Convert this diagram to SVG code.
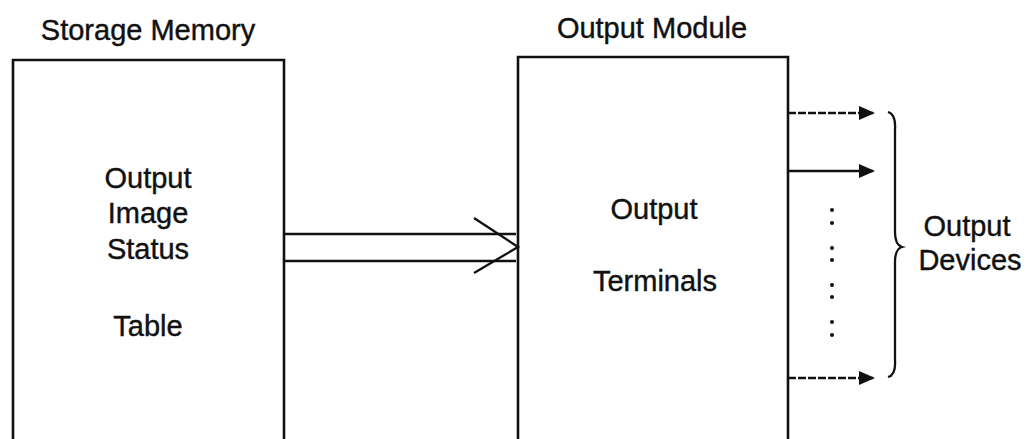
<svg xmlns="http://www.w3.org/2000/svg" width="1026" height="439" viewBox="0 0 1026 439">
<style>
text{font-family:"Liberation Sans",Arial,sans-serif;font-size:29px;fill:#111;stroke:#111;stroke-width:0.4;text-anchor:middle}
.box{fill:none;stroke:#111;stroke-width:2.6}
.ln{fill:none;stroke:#111;stroke-width:2.3}
.dot{fill:#111}
</style>
<defs>
<marker id="tri" markerWidth="16" markerHeight="14" refX="14" refY="7" orient="auto" markerUnits="userSpaceOnUse">
<path d="M0,0 L16,7 L0,14 Z" fill="#111"/>
</marker>
</defs>
<rect width="1026" height="439" fill="#fff"/>
<g id="storage-memory">
<text x="148" y="40">Storage Memory</text>
<path class="box" d="M13,445 V60 H284 V445"/>
<text x="148" y="188">Output</text>
<text x="148" y="223">Image</text>
<text x="148" y="259">Status</text>
<text x="148" y="336">Table</text>
</g>
<g id="output-module">
<text x="652" y="38">Output Module</text>
<path class="box" d="M518,445 V57 H788 V445"/>
<text x="654" y="219">Output</text>
<text x="655" y="291">Terminals</text>
</g>
<g id="output-devices">
<text x="967" y="236">Output</text>
<text x="970" y="270">Devices</text>
<path class="ln" d="M888,112 Q896,114 895,130 L895,232 Q895,245 902,247 Q895,249 895,262 L895,360 Q896,375 888,377" stroke-width="2.8"/>
</g>
<g id="connectors">
<path class="ln" d="M284,234 H516 M284,261 H516"/>
<path class="ln" d="M474,218 L518,247 L474,273"/>
<path class="ln" d="M788,113 H873" stroke-dasharray="8,2" marker-end="url(#tri)"/>
<path class="ln" d="M788,171 H873" marker-end="url(#tri)"/>
<path class="ln" d="M788,378 H873" stroke-dasharray="8,2" marker-end="url(#tri)"/>
<circle class="dot" cx="832" cy="210" r="2"/>
<circle class="dot" cx="832" cy="223" r="2"/>
<circle class="dot" cx="832" cy="248" r="2"/>
<circle class="dot" cx="832" cy="260" r="2"/>
<circle class="dot" cx="832" cy="285" r="2"/>
<circle class="dot" cx="832" cy="297" r="2"/>
<circle class="dot" cx="832" cy="322" r="2"/>
<circle class="dot" cx="832" cy="335" r="2"/>
</g>
</svg>
